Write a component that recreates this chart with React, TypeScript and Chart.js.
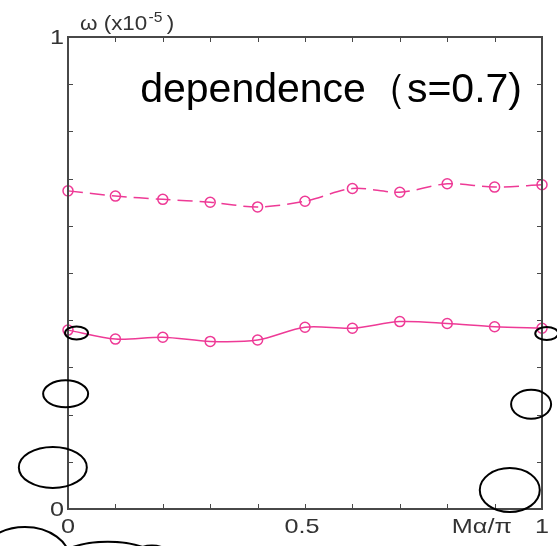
import React, { useEffect, useRef } from "react";
import { Chart, registerables } from "chart.js";

Chart.register(...registerables);

const xValues = [0, 0.1, 0.2, 0.3, 0.4, 0.5, 0.6, 0.7, 0.8, 0.9, 1.0];
const upperSeries = [0.674, 0.663, 0.656, 0.65, 0.64, 0.652, 0.679, 0.671, 0.689, 0.682, 0.687];
const lowerSeries = [0.379, 0.36, 0.364, 0.355, 0.358, 0.385, 0.383, 0.397, 0.393, 0.386, 0.383];
const xTickLabels = [
  { v: 0, t: "0" },
  { v: 0.5, t: "0.5" },
  { v: 1, t: "1" },
];
const yTickLabels = [
  { v: 0, t: "0" },
  { v: 1, t: "1" },
];
const titleText = "dependence（s=0.7)";
const xAxisTitle = "Mα/π";

// decorative ellipses: center in data units, radii in px
const ellipses = [
  { x: 0.018, y: 0.373, rx: 11.5, ry: 6.5 },
  { x: 1.01, y: 0.372, rx: 11.5, ry: 6.5 },
  { x: -0.005, y: 0.244, rx: 22.5, ry: 13.5 },
  { x: -0.032, y: 0.088, rx: 34, ry: 20.5 },
  { x: 0.977, y: 0.222, rx: 20, ry: 14.5 },
  { x: 0.932, y: 0.04, rx: 30, ry: 22 },
  { x: -0.091, y: -0.108, rx: 45, ry: 33 },
  { x: 0.084, y: -0.133, rx: 62, ry: 30 },
  { x: 0.177, y: -0.14, rx: 30, ry: 29.5 },
];

const MAGENTA = "#ee3a96";
const AXIS = "#484848";
const FONT = "'Liberation Sans', Arial, sans-serif";
const STRETCH = 1.2;

function stretchedText(ctx: any, text: string, x: number, y: number, align: "left" | "center" | "right") {
  const w = ctx.measureText(text).width * STRETCH;
  let sx = x;
  if (align === "center") sx = x - w / 2;
  else if (align === "right") sx = x - w;
  ctx.save();
  ctx.textAlign = "left";
  ctx.translate(sx, y);
  ctx.scale(STRETCH, 1);
  ctx.fillText(text, 0, 0);
  ctx.restore();
  return w;
}

const decorPlugin = {
  id: "decor",
  afterDraw(chart: any) {
    const { ctx, chartArea } = chart;
    const xs = chart.scales.x;
    const ys = chart.scales.y;
    const { left, right, top, bottom } = chartArea;
    ctx.save();
    // frame
    ctx.strokeStyle = AXIS;
    ctx.lineWidth = 2;
    ctx.strokeRect(left, top, right - left, bottom - top);
    // ticks
    ctx.lineWidth = 1;
    const tl = 5;
    for (let i = 1; i < 10; i++) {
      const v = i / 10;
      const px = Math.round(xs.getPixelForValue(v)) + 0.5;
      ctx.beginPath();
      ctx.moveTo(px, bottom);
      ctx.lineTo(px, bottom - tl);
      ctx.moveTo(px, top);
      ctx.lineTo(px, top + tl);
      ctx.stroke();
      const py = Math.round(ys.getPixelForValue(v)) + 0.5;
      ctx.beginPath();
      ctx.moveTo(left, py);
      ctx.lineTo(left + tl, py);
      ctx.moveTo(right, py);
      ctx.lineTo(right - tl, py);
      ctx.stroke();
    }
    // tick labels
    ctx.fillStyle = "#333";
    ctx.font = `21px ${FONT}`;
    ctx.textBaseline = "middle";
    for (const t of xTickLabels) {
      stretchedText(ctx, t.t, xs.getPixelForValue(t.v) - (t.v === 0.5 ? 3 : 0), bottom + 18, "center");
    }
    for (const t of yTickLabels) {
      stretchedText(ctx, t.t, left - 4, ys.getPixelForValue(t.v) + 1, "right");
    }
    stretchedText(ctx, xAxisTitle, xs.getPixelForValue(0.873), bottom + 18, "center");
    // y axis title
    ctx.textBaseline = "alphabetic";
    ctx.font = `20px ${FONT}`;
    const x0 = left + 12;
    const base = 30;
    ctx.save();
    ctx.translate(x0, base);
    ctx.scale(1.12, 1);
    ctx.textAlign = "left";
    ctx.fillText("ω (x10", 0, 0);
    let w = ctx.measureText("ω (x10").width;
    ctx.font = `14px ${FONT}`;
    ctx.fillText("-5", w + 1, -8);
    w += ctx.measureText("-5").width + 5;
    ctx.font = `20px ${FONT}`;
    ctx.fillText(")", w, 0);
    ctx.restore();
    // title
    ctx.fillStyle = "#000";
    ctx.font = `41px ${FONT}`;
    ctx.textAlign = "right";
    ctx.textBaseline = "alphabetic";
    ctx.fillText(titleText, right - 20, 102);
    // ellipses
    ctx.strokeStyle = "#000";
    ctx.lineWidth = 2;
    for (const e of ellipses) {
      ctx.beginPath();
      ctx.ellipse(xs.getPixelForValue(e.x), ys.getPixelForValue(e.y), e.rx, e.ry, 0, 0, Math.PI * 2);
      ctx.stroke();
    }
    ctx.restore();
  },
};

export default function App() {
  const ref = useRef<HTMLCanvasElement>(null);
  useEffect(() => {
    if (!ref.current) return;
    const chart = new Chart(ref.current, {
      type: "line",
      data: {
        datasets: [
          {
            data: xValues.map((x, i) => ({ x, y: upperSeries[i] })),
            borderColor: MAGENTA,
            borderWidth: 1.5,
            borderDash: [15, 7],
            pointStyle: "circle",
            pointRadius: 5,
            pointBorderWidth: 1.5,
            pointBorderColor: MAGENTA,
            pointBackgroundColor: "rgba(0,0,0,0)",
            tension: 0.3,
            clip: false as any,
          },
          {
            data: xValues.map((x, i) => ({ x, y: lowerSeries[i] })),
            borderColor: MAGENTA,
            borderWidth: 1.5,
            pointStyle: "circle",
            pointRadius: 5,
            pointBorderWidth: 1.5,
            pointBorderColor: MAGENTA,
            pointBackgroundColor: "rgba(0,0,0,0)",
            tension: 0.3,
            clip: false as any,
          },
        ],
      },
      options: {
        responsive: false,
        animation: false,
        layout: { padding: { left: 68, right: 15, top: 37, bottom: 37 } },
        plugins: { legend: { display: false }, tooltip: { enabled: false }, title: { display: false } },
        scales: {
          x: { type: "linear", min: 0, max: 1, display: false },
          y: { type: "linear", min: 0, max: 1, display: false },
        },
      },
      plugins: [decorPlugin],
    });
    return () => chart.destroy();
  }, []);
  return (
    <div style={{ position: "fixed", left: 0, top: 0, width: 557, height: 546, background: "#fff" }}>
      <canvas ref={ref} width={557} height={546} style={{ display: "block" }} />
    </div>
  );
}
